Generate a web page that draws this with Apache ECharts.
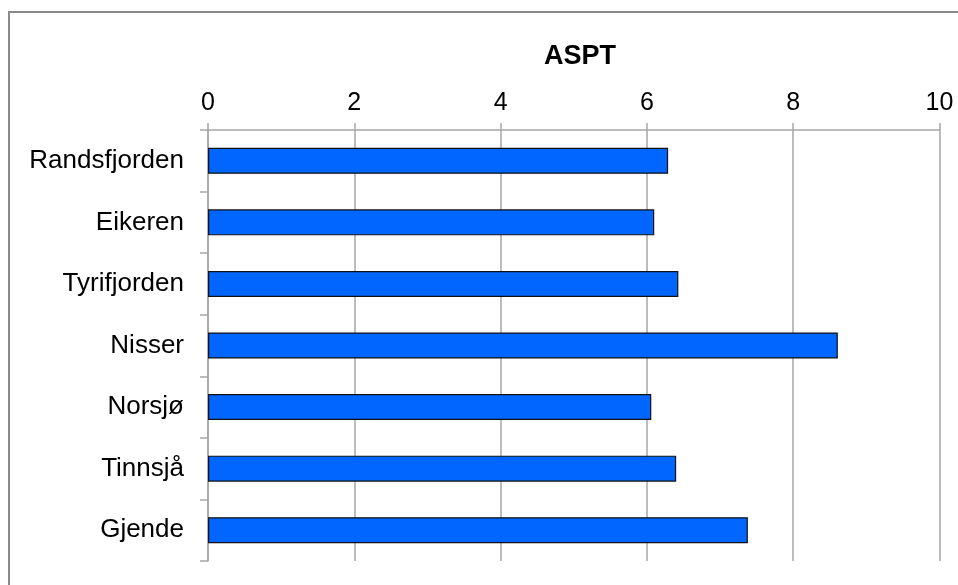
<!DOCTYPE html>
<html>
<head>
<meta charset="utf-8">
<script src="https://cdn.jsdelivr.net/npm/echarts@6/dist/echarts.min.js"></script>
<style>
  html, body { margin: 0; padding: 0; background: #fff; }
  #chart { width: 958px; height: 585px; }
</style>
</head>
<body>
<div id="chart"></div>
<script>
// ASPT score per lake
const lakes = ['Randsfjorden', 'Eikeren', 'Tyrifjorden', 'Nisser', 'Norsjø', 'Tinnsjå', 'Gjende'];
const aspt = [6.29, 6.10, 6.43, 8.61, 6.06, 6.40, 7.38];
const axisTitle = 'ASPT';

const FONT = '"Liberation Sans", Arial, sans-serif';
const GRAY = '#a6a6a6';

const chart = echarts.init(document.getElementById('chart'), null, { renderer: 'canvas' });
chart.setOption({
  backgroundColor: '#ffffff',
  animation: false,
  title: {
    text: axisTitle,
    left: 544,
    top: 43,
    padding: 0,
    textStyle: { fontFamily: FONT, fontSize: 27, fontWeight: 'bold', color: '#000' }
  },
  graphic: [{
    type: 'rect',
    shape: { x: 9, y: 12, width: 2000, height: 2000 },
    style: { fill: 'none', stroke: '#8a8a8a', lineWidth: 2 },
    silent: true
  }],
  grid: { left: 208, top: 130, right: 18.5, bottom: 24 },
  xAxis: {
    type: 'value',
    position: 'top',
    min: 0,
    max: 10,
    interval: 2,
    axisLine: { show: true, lineStyle: { color: GRAY, width: 1.5 } },
    axisTick: { show: true, inside: false, length: 7, lineStyle: { color: GRAY, width: 1.5 } },
    splitLine: { show: true, lineStyle: { color: GRAY, width: 1.5 } },
    axisLabel: { fontFamily: FONT, fontSize: 25, color: '#000', margin: 14 }
  },
  yAxis: {
    type: 'category',
    data: lakes,
    inverse: true,
    axisLine: { show: true, lineStyle: { color: GRAY, width: 1.5 } },
    axisTick: { show: true, inside: false, length: 8, lineStyle: { color: GRAY, width: 1.5 } },
    splitLine: { show: false },
    axisLabel: { fontFamily: FONT, fontSize: 26, color: '#000', margin: 24 }
  },
  series: [{
    type: 'bar',
    data: aspt,
    barWidth: 26,
    itemStyle: { color: '#0066ff', borderColor: '#111', borderWidth: 1.2 }
  }]
});
</script>
</body>
</html>
